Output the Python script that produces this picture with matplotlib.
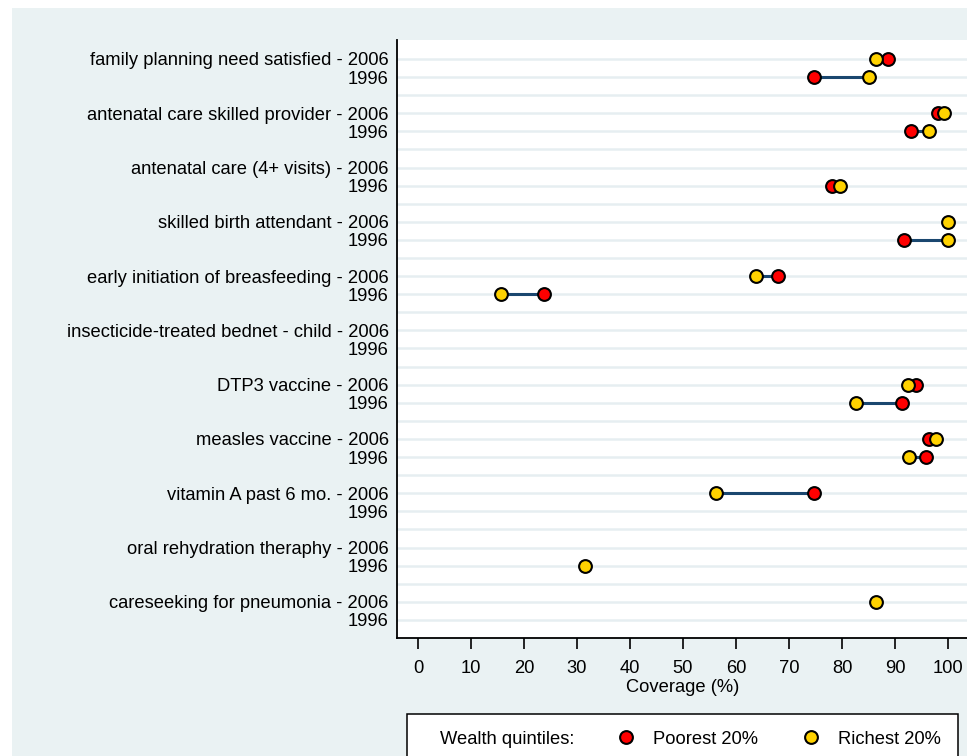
import numpy as np
import matplotlib.pyplot as plt
from matplotlib.patches import Rectangle
from matplotlib.lines import Line2D

plt.rcParams['font.family'] = ['Liberation Sans', 'DejaVu Sans']

# indicators (top to bottom)
indicators = ['family planning need satisfied', 'antenatal care skilled provider',
              'antenatal care (4+ visits)', 'skilled birth attendant',
              'early initiation of breasfeeding', 'insecticide-treated bednet - child',
              'DTP3 vaccine', 'measles vaccine', 'vitamin A past 6 mo.',
              'oral rehydration theraphy', 'careseeking for pneumonia']
nan = np.nan
poorest_2006 = [88.7, 98.1, nan, nan, 67.9, nan, 93.9, 96.5, 74.8, nan, nan]
richest_2006 = [86.5, 99.2, nan, 100.0, 63.8, nan, 92.5, 97.8, 56.2, nan, 86.5]
poorest_1996 = [74.8, 93.0, 78.2, 91.7, 23.7, nan, 91.4, 95.8, nan, nan, nan]
richest_1996 = [85.1, 96.4, 79.6, 100.0, 15.6, nan, 82.6, 92.7, nan, 31.6, nan]
xticks = list(range(0, 101, 10))

bg = '#eaf2f3'
red = '#ff0000'
gold = '#ffd200'
navy = '#1a476f'
fs = 13.2

fig = plt.figure(figsize=(9.67, 7.56), dpi=100, facecolor='white')
fig.add_artist(Rectangle((12 / 967, 0), 1, 748 / 756, transform=fig.transFigure,
                         facecolor=bg, edgecolor='none', zorder=-10))

ax = fig.add_axes([397 / 967, (756 - 638) / 756, 572 / 967, 598 / 756])
ax.set_facecolor('white')

n = len(indicators)
y06 = np.arange(n) * 3
y96 = y06 + 1

# light horizontal grid on every row
for r in range(3 * n - 1):
    ax.axhline(r, color='#e6eef1', lw=1.8, zorder=0)

ms, mew = 9.2, 1.5
for yy, pr, ri in [(y06, poorest_2006, richest_2006), (y96, poorest_1996, richest_1996)]:
    pr = np.array(pr)
    ri = np.array(ri)
    for i in range(n):
        if not np.isnan(pr[i]) and not np.isnan(ri[i]):
            ax.plot([pr[i], ri[i]], [yy[i], yy[i]], color=navy, lw=2.2, zorder=2)
    ax.plot(pr, yy, 'o', color=red, mec='black', mew=mew, ms=ms, zorder=3)
    ax.plot(ri, yy, 'o', color=gold, mec='black', mew=mew, ms=ms, zorder=4)

ax.set_xlim(-3.96, 103.96)
ax.set_ylim(32, -1.05)

ticks = []
labels = []
for i, name in enumerate(indicators):
    ticks += [y06[i], y96[i]]
    labels += [name + ' - 2006', '1996']
ax.set_yticks(ticks)
ax.set_yticklabels(labels, fontsize=fs)
ax.tick_params(axis='y', length=0, pad=6)

ax.set_xticks(xticks)
ax.set_xticklabels([str(t) for t in xticks], fontsize=fs)
ax.tick_params(axis='x', length=8, width=1.2, pad=8, direction='out')
ax.set_xlabel('Coverage (%)', fontsize=fs, labelpad=1)

for s in ['top', 'right']:
    ax.spines[s].set_visible(False)
for s in ['left', 'bottom']:
    ax.spines[s].set_linewidth(1.3)

# legend box at the bottom
fig.add_artist(Rectangle((407 / 967, -0.1), (958 - 407) / 967, (756 - 714) / 756 + 0.1,
                         transform=fig.transFigure, facecolor='white',
                         edgecolor='black', lw=1.1, zorder=5))
ty = (756 - 744) / 756
my = (756 - 737) / 756
fig.text(440 / 967, ty, 'Wealth quintiles:', fontsize=fs, va='baseline', zorder=6)
fig.add_artist(Line2D([626 / 967], [my], marker='o', color=red, mec='black', mew=mew,
                      ms=ms, transform=fig.transFigure, zorder=6))
fig.text(653 / 967, ty, 'Poorest 20%', fontsize=fs, va='baseline', zorder=6)
fig.add_artist(Line2D([811 / 967], [my], marker='o', color=gold, mec='black', mew=mew,
                      ms=ms, transform=fig.transFigure, zorder=6))
fig.text(838 / 967, ty, 'Richest 20%', fontsize=fs, va='baseline', zorder=6)

fig.savefig('out.png', dpi=100)
